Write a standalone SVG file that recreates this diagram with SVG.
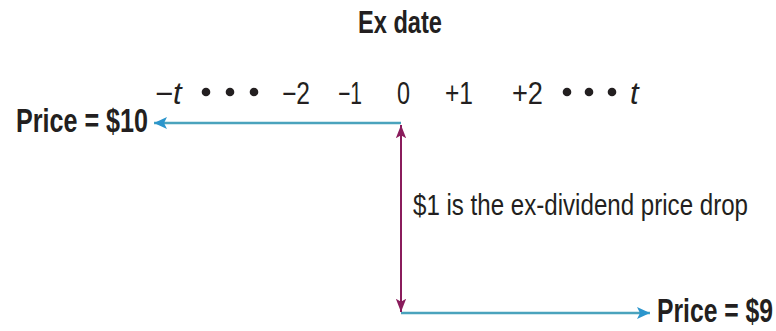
<svg xmlns="http://www.w3.org/2000/svg" width="776" height="331" viewBox="0 0 776 331">
<style>
text{font-family:"Liberation Sans","Arial",sans-serif;fill:#231f20;}
.b{font-weight:bold;}
.lbl{font-size:34px;}
.tick{font-size:31px;}
.blue{stroke:#4aa3bd;stroke-width:2.5;fill:none;}
.purple{stroke:#8a1c5c;stroke-width:2;fill:none;}
.dot{fill:#231f20;}
</style>
<defs>
<marker id="ab" markerUnits="userSpaceOnUse" markerWidth="14" markerHeight="14" refX="13" refY="7" orient="auto-start-reverse">
<path d="M0,1 L13,7 L0,13 L3,7 z" fill="#2b95cc"/>
</marker>
<marker id="ap" markerUnits="userSpaceOnUse" markerWidth="14" markerHeight="20" refX="18" refY="7" orient="auto-start-reverse" viewBox="0 0 19 14">
<path d="M0,0 L18,7 L0,14 L4,7 z" fill="#8a1c5c"/>
</marker>
</defs>
<g id="connectors">
<line class="blue" x1="401" y1="123" x2="154" y2="123" marker-end="url(#ab)"/>
<line class="blue" x1="401" y1="313" x2="650" y2="313" marker-end="url(#ab)"/>
<line class="purple" x1="401" y1="125" x2="401" y2="312" marker-start="url(#ap)" marker-end="url(#ap)"/>
</g>
<g id="title"><text class="b" x="358" y="33" font-size="32" textLength="84" lengthAdjust="spacingAndGlyphs">Ex date</text></g>
<g id="timeline">
<text class="tick" x="155" y="104">−<tspan font-style="italic">t</tspan></text>
<circle class="dot" cx="206" cy="92" r="4.3"/>
<circle class="dot" cx="230" cy="92" r="4.3"/>
<circle class="dot" cx="254" cy="92" r="4.3"/>
<text class="tick" x="282" y="104" textLength="28" lengthAdjust="spacingAndGlyphs">−2</text>
<text class="tick" x="338" y="104" textLength="24" lengthAdjust="spacingAndGlyphs">−1</text>
<text class="tick" x="397" y="104" textLength="13" lengthAdjust="spacingAndGlyphs">0</text>
<text class="tick" x="445" y="104" textLength="28" lengthAdjust="spacingAndGlyphs">+1</text>
<text class="tick" x="512" y="104" textLength="31" lengthAdjust="spacingAndGlyphs">+2</text>
<circle class="dot" cx="567" cy="92" r="4.3"/>
<circle class="dot" cx="589" cy="92" r="4.3"/>
<circle class="dot" cx="612" cy="92" r="4.3"/>
<text class="tick" x="630" y="104" font-style="italic">t</text>
</g>
<g id="price10"><text class="b lbl" x="16" y="132" textLength="132" lengthAdjust="spacingAndGlyphs">Price = $10</text></g>
<g id="price9"><text class="b lbl" x="657" y="322" textLength="116" lengthAdjust="spacingAndGlyphs">Price = $9</text></g>
<g id="drop"><text x="413" y="215" font-size="30" textLength="335" lengthAdjust="spacingAndGlyphs">$1 is the ex-dividend price drop</text></g>
</svg>
